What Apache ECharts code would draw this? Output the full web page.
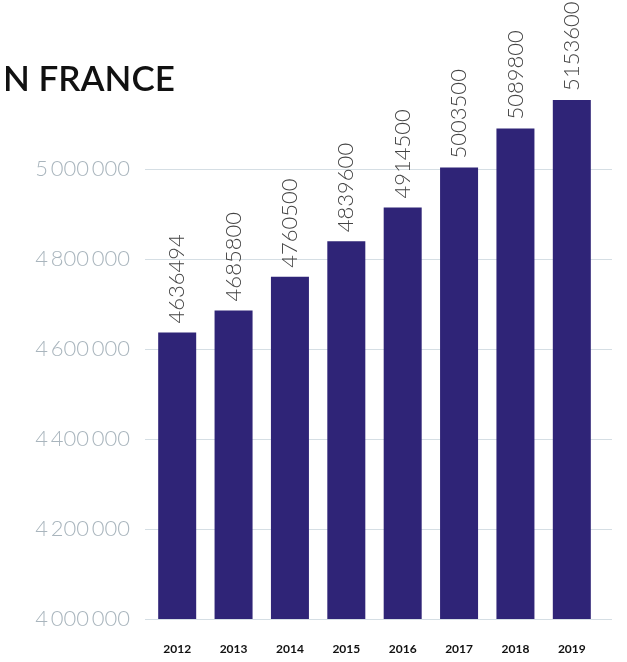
<!DOCTYPE html>
<html><head><meta charset="utf-8">
<script src="https://cdn.jsdelivr.net/npm/echarts@6/dist/echarts.min.js"></script>
<style>html,body{margin:0;padding:0;background:#fff}#c{width:627px;height:662px}</style>
</head><body><div id="c"></div>
<script>
var years = ['2012','2013','2014','2015','2016','2017','2018','2019'];
var values = [4636494, 4685800, 4760500, 4839600, 4914500, 5003500, 5089800, 5153600];
var titleText = 'N FRANCE';

function fmt(v){
  return String(v).replace(/\B(?=(\d{3})+(?!\d))/g, '\u2009');
}

var yMin = 4000000, yMax = 5200000, yStep = 200000;

var chart = echarts.init(document.getElementById('c'));
chart.setOption({
  animation: false,
  title: {
    text: titleText, left: -2, top: 57,
    textStyle: {fontFamily: 'Lato', fontSize: 35, fontWeight: 600, color: '#111'}
  },
  grid: [
    {left: 145, right: 15, top: 79, bottom: 43},
    {left: 149, right: 27, top: 79, bottom: 43}
  ],
  xAxis: [
    {gridIndex: 0, type: 'category', data: years, show: false},
    {
      gridIndex: 1, type: 'category', data: years,
      axisLine: {show: false}, axisTick: {show: false},
      axisLabel: {margin: 24, color: '#111', fontFamily: 'Lato', fontWeight: 'bold', fontSize: 12}
    }
  ],
  yAxis: [
    {
      gridIndex: 0, type: 'value', min: yMin, max: yMax, interval: yStep,
      axisLine: {show: false}, axisTick: {show: false},
      splitLine: {show: true, showMaxLine: false, lineStyle: {color: '#d5dee4', width: 1}},
      axisLabel: {
        showMaxLabel: false, margin: 15, color: '#a9b5bd', fontFamily: 'Lato', fontWeight: 300, fontSize: 22,
        formatter: function(v){ return v < yMax ? fmt(v) : ''; }
      }
    },
    {
      gridIndex: 1, type: 'value', min: yMin, max: yMax, interval: yStep, show: false,
      splitLine: {show: false}
    }
  ],
  series: [{
    type: 'bar', data: values, barWidth: 38, xAxisIndex: 1, yAxisIndex: 1,
    itemStyle: {color: '#2f2477'},
    label: {
      show: true, position: 'top', rotate: 90, align: 'left', verticalAlign: 'middle',
      distance: 9, color: '#444', fontFamily: 'Lato', fontWeight: 300, fontSize: 22,
      formatter: function(p){ return String(p.value); }
    }
  }]
});
</script></body></html>
